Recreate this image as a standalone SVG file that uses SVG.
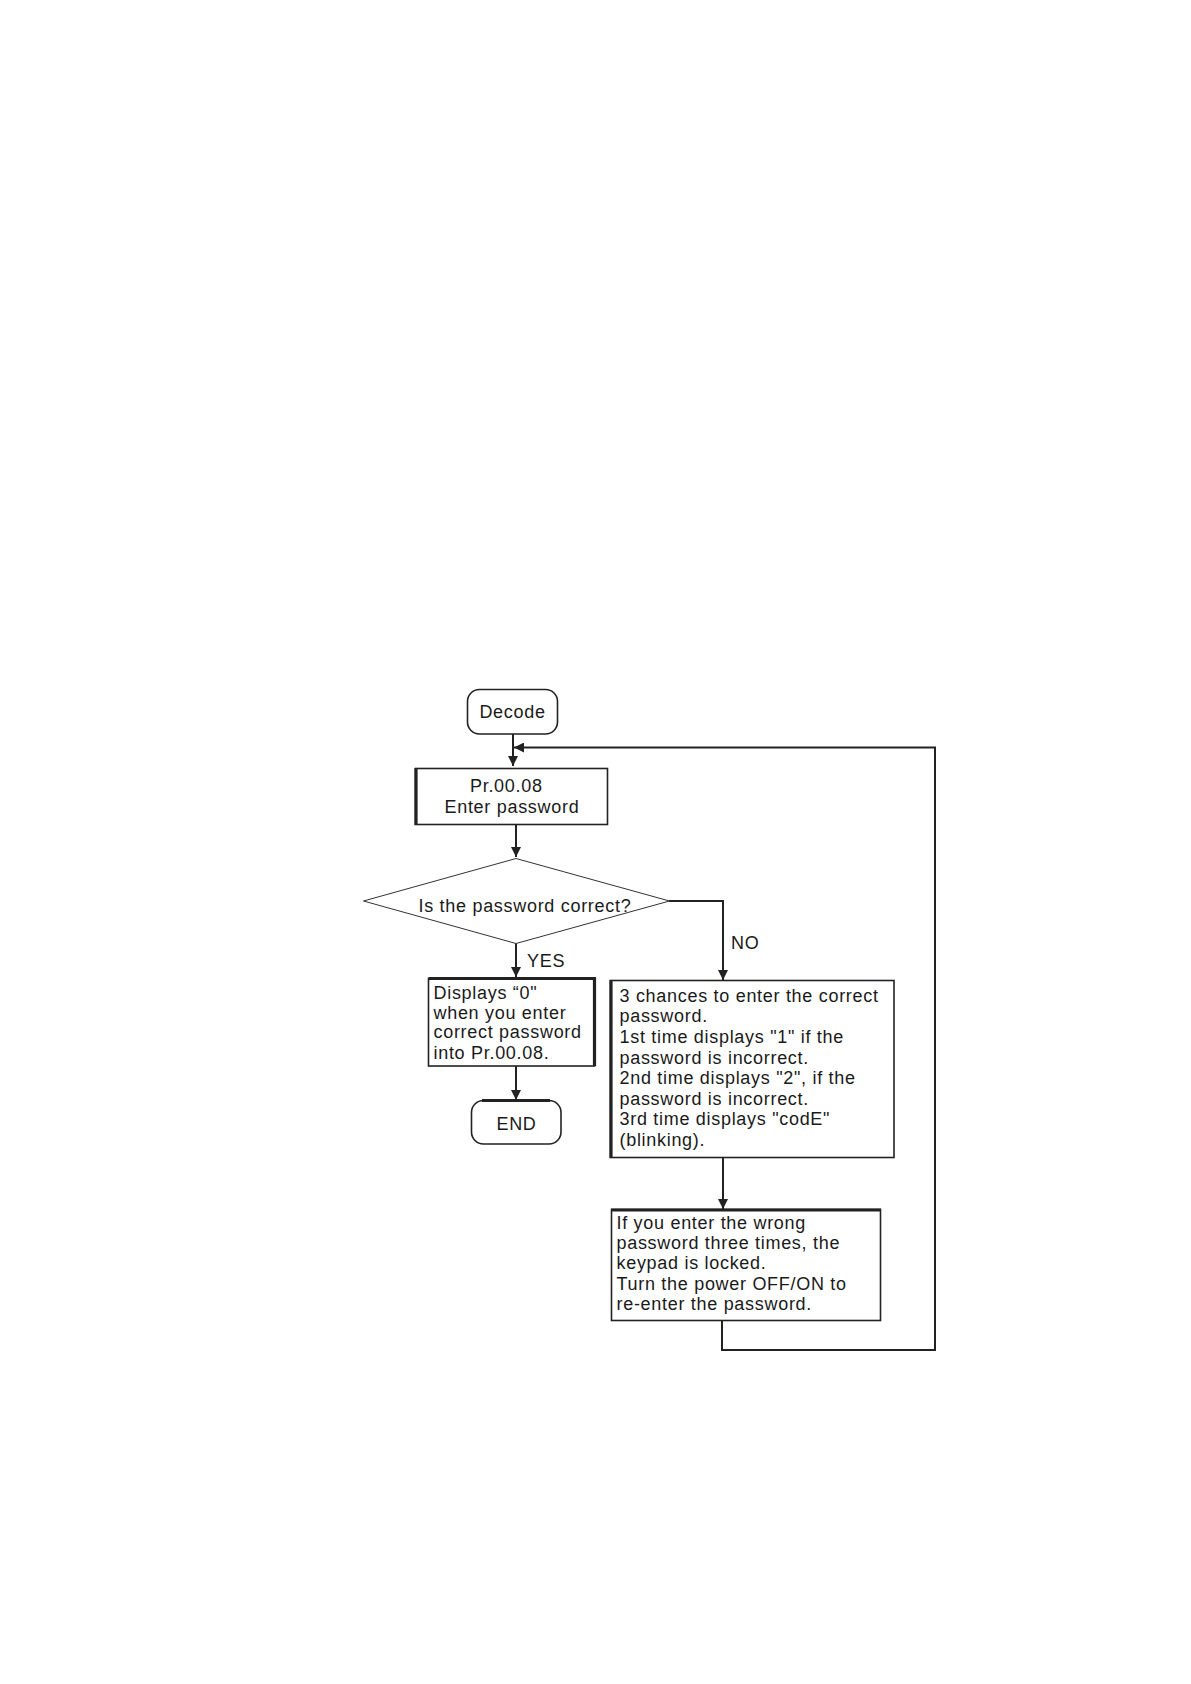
<svg xmlns="http://www.w3.org/2000/svg" width="1191" height="1684" viewBox="0 0 1191 1684">
<style>
text{font-family:"Liberation Sans",Arial,sans-serif;font-size:18px;letter-spacing:0.7px;fill:#1a1a1a}
.box{fill:#fff;stroke:#222;stroke-width:1.6}
.thick{stroke:#222;stroke-width:3.2;fill:none}
.dia{fill:#fff;stroke:#333;stroke-width:1}
.ln{stroke:#222;stroke-width:2;fill:none}
</style>
<defs>
<marker id="ah" viewBox="0 0 10 10" refX="10" refY="5" markerWidth="10" markerHeight="10" markerUnits="userSpaceOnUse" orient="auto">
<path d="M0,0 L10,5 L0,10 Z" fill="#222"/>
</marker>
</defs>
<rect width="1191" height="1684" fill="#fff"/>
<g id="connectors">
<line class="ln" x1="513" y1="734" x2="513" y2="766" marker-end="url(#ah)"/>
<line class="ln" x1="516" y1="824" x2="516" y2="857" marker-end="url(#ah)"/>
<line class="ln" x1="516" y1="943" x2="516" y2="977" marker-end="url(#ah)"/>
<line class="ln" x1="516" y1="1066" x2="516" y2="1100" marker-end="url(#ah)"/>
<polyline class="ln" points="669,901 723,901 723,980" marker-end="url(#ah)"/>
<line class="ln" x1="723" y1="1157" x2="723" y2="1209" marker-end="url(#ah)"/>
<polyline class="ln" points="722,1321 722,1350 935,1350 935,747.5 514,747.5" marker-end="url(#ah)"/>
<text x="527" y="967">YES</text>
<text x="731" y="949">NO</text>
</g>
<g id="decode">
<rect class="box" x="467.5" y="689.5" width="90" height="44.5" rx="12"/>
<text x="512.5" y="718" text-anchor="middle">Decode</text>
</g>
<g id="enter-password">
<rect class="box" x="415.5" y="768.5" width="192" height="56"/>
<line class="thick" x1="416" y1="768" x2="416" y2="825"/>
<text x="470" y="792">Pr.00.08</text>
<text x="444.5" y="812.5">Enter password</text>
</g>
<g id="decision">
<polygon class="dia" points="516,858.5 669.5,901 516,943.5 363.5,901"/>
<text x="418.5" y="911.5">Is the password correct?</text>
</g>
<g id="displays-zero">
<rect class="box" x="428.5" y="978.5" width="166" height="87.5"/>
<polyline class="thick" points="428.5,978.5 594.5,978.5 594.5,1066"/>
<text x="433.5" y="998.5">Displays “0"</text>
<text x="433.5" y="1018.5">when you enter</text>
<text x="433.5" y="1038">correct password</text>
<text x="433.5" y="1058.5">into Pr.00.08.</text>
</g>
<g id="end">
<rect class="box" x="471.5" y="1100.5" width="89.5" height="43.5" rx="12"/>
<path class="thick" d="M482,1100.5 H550" />
<text x="516.5" y="1130" text-anchor="middle">END</text>
</g>
<g id="three-chances">
<rect class="box" x="610.5" y="980.5" width="283.5" height="177"/>
<line class="thick" x1="611" y1="980" x2="611" y2="1158"/>
<text x="619.5" y="1001.7">3 chances to enter the correct</text>
<text x="619.5" y="1022.3">password.</text>
<text x="619.5" y="1042.9">1st time displays "1" if the</text>
<text x="619.5" y="1063.5">password is incorrect.</text>
<text x="619.5" y="1084.1">2nd time displays "2", if the</text>
<text x="619.5" y="1104.7">password is incorrect.</text>
<text x="619.5" y="1125.3">3rd time displays "codE"</text>
<text x="619.5" y="1145.9">(blinking).</text>
</g>
<g id="locked">
<rect class="box" x="611.5" y="1209.5" width="269" height="111"/>
<line class="thick" x1="611" y1="1210" x2="881" y2="1210"/>
<text x="616.5" y="1228.5">If you enter the wrong</text>
<text x="616.5" y="1249">password three times, the</text>
<text x="616.5" y="1269">keypad is locked.</text>
<text x="616.5" y="1290">Turn the power OFF/ON to</text>
<text x="616.5" y="1310">re-enter the password.</text>
</g>
</svg>
